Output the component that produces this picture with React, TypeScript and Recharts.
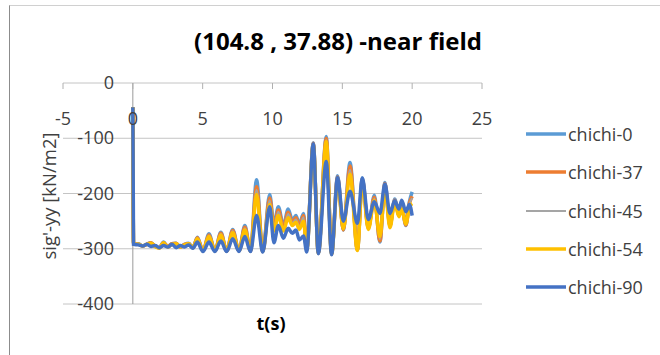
import React from "react";
import { LineChart, Line, XAxis, YAxis, CartesianGrid, ReferenceLine, Legend } from "recharts";

// time (s)
const TIMES = [
  0, 0.05, 0.4, 0.7, 1.0, 1.3, 1.6, 1.9, 2.2, 2.5, 2.8, 3.1, 3.4, 3.7, 4.0, 4.3,
  4.62, 5.02, 5.45, 5.88, 6.3, 6.72, 7.15, 7.6, 8.02, 8.42, 8.86, 9.3, 9.8, 10.1,
  10.42, 10.78, 11.12, 11.42, 11.68, 11.92, 12.22, 12.45, 12.92, 13.28, 13.85, 14.23,
  14.66, 15.07, 15.55, 16.08, 16.43, 16.86, 17.29, 17.69, 18.05, 18.41, 18.75, 19.05,
  19.25, 19.55, 19.8, 20.0,
];

const CHICHI_0 = [
  -44, -292, -291, -295, -292, -289, -296, -298, -288, -296, -291, -290, -297, -292, -290, -298,
  -279, -304, -273, -304, -270, -304, -265, -304, -258, -304, -175, -305, -202, -256,
  -224, -258, -228, -248, -240, -256, -236, -300, -108, -308, -97, -308,
  -168, -266, -144, -302, -172, -262, -203, -288, -180, -258, -210, -238,
  -222, -258, -215, -197,
];

const CHICHI_37 = [
  -44, -292, -292, -295, -292, -289, -296, -298, -289, -296, -291, -290, -297, -292, -291, -298,
  -280, -304, -275, -304, -272, -304, -267, -304, -261, -304, -188, -305, -208, -262,
  -230, -262, -234, -252, -244, -259, -240, -302, -109, -308, -100, -309,
  -170, -266, -150, -302, -174, -263, -207, -286, -182, -259, -212, -239,
  -224, -257, -218, -205,
];

const CHICHI_45 = [
  -44, -292, -292, -295, -292, -290, -296, -298, -289, -296, -291, -291, -297, -293, -291, -298,
  -281, -304, -276, -304, -273, -304, -268, -304, -263, -304, -193, -305, -212, -264,
  -233, -264, -237, -254, -247, -261, -243, -302, -110, -308, -103, -309,
  -172, -265, -157, -302, -175, -263, -209, -283, -184, -260, -213, -240,
  -225, -256, -220, -208,
];

const CHICHI_54 = [
  -44, -292, -292, -295, -292, -290, -296, -299, -289, -297, -292, -291, -297, -293, -291, -298,
  -282, -304, -278, -304, -275, -304, -271, -304, -266, -304, -202, -305, -220, -268,
  -240, -268, -244, -258, -252, -265, -250, -303, -112, -308, -106, -310,
  -178, -264, -165, -303, -180, -265, -213, -278, -190, -262, -216, -242,
  -228, -255, -225, -218,
];

const CHICHI_90 = [
  -44, -292, -293, -295, -292, -296, -294, -298, -294, -297, -292, -298, -294, -297, -293, -299,
  -288, -305, -288, -305, -286, -305, -282, -305, -278, -305, -240, -306, -224, -289,
  -258, -281, -263, -272, -266, -284, -277, -306, -110, -309, -142, -311,
  -171, -250, -196, -254, -172, -247, -215, -236, -183, -236, -213, -228,
  -212, -233, -220, -240,
];

const X_TICKS = [-5, 0, 5, 10, 15, 20, 25];
const Y_TICKS = [-400, -300, -200, -100, 0];

const TITLE = "(104.8 , 37.88) -near field";
const X_TITLE = "t(s)";
const Y_TITLE = "sig'-yy [kN/m2]";

const SERIES = [
  { key: "c0", name: "chichi-0", values: CHICHI_0, color: "#5B9BD5", width: 3.5 },
  { key: "c37", name: "chichi-37", values: CHICHI_37, color: "#ED7D31", width: 3.5 },
  { key: "c45", name: "chichi-45", values: CHICHI_45, color: "#A5A5A5", width: 2 },
  { key: "c54", name: "chichi-54", values: CHICHI_54, color: "#FFC000", width: 3.5 },
  { key: "c90", name: "chichi-90", values: CHICHI_90, color: "#4472C4", width: 3.5 },
];

const data = TIMES.map((t, i) => {
  const row: Record<string, number> = { t };
  SERIES.forEach((s) => {
    row[s.key] = s.values[i];
  });
  return row;
});

const FONT = "'Open Sans', sans-serif";
const TXT = "#404040";

const YTick = (props: any) => {
  const { x, y, payload } = props;
  return (
    <text x={x + 51} y={y} dy={6} textAnchor="end" fontFamily={FONT} fontSize={18} fill={TXT}>
      {payload.value}
    </text>
  );
};

const renderLegend = () => (
  <div style={{ fontFamily: FONT, fontSize: 18, color: TXT }}>
    {SERIES.map((s) => (
      <div key={s.key} style={{ height: 38.3, display: "flex", alignItems: "center" }}>
        <svg width={42} height={10} style={{ display: "block" }}>
          <line x1={0} x2={40} y1={5} y2={5} stroke={s.color} strokeWidth={s.width} />
        </svg>
        <span style={{ whiteSpace: "nowrap" }}>{s.name}</span>
      </div>
    ))}
  </div>
);

export default function App() {
  return (
    <div
      style={{
        position: "absolute",
        left: 0,
        top: 0,
        width: 660,
        height: 355,
        background: "#fff",
        overflow: "hidden",
      }}
    >
      <div
        style={{
          position: "absolute",
          left: 9,
          top: 5,
          width: 700,
          height: 400,
          borderLeft: "1px solid #8c8c8c",
          borderTop: "1px solid #d0d0d0",
        }}
      />
      <div style={{ position: "absolute", left: 0, top: 0 }}>
        <LineChart
          width={660}
          height={355}
          data={data}
          margin={{ top: 83, right: 178, bottom: 51, left: 62 }}
        >
          <CartesianGrid horizontal vertical={false} stroke="#c4c4c4" strokeWidth={1} />
          <XAxis
            dataKey="t"
            type="number"
            domain={[-5, 25]}
            ticks={X_TICKS}
            orientation="top"
            mirror
            height={1}
            tickSize={6}
            tickMargin={23}
            axisLine={false}
            tickLine={{ stroke: "#b0b0b0" }}
            tick={{ fontFamily: FONT, fontSize: 18, fill: TXT }}
            interval={0}
            allowDataOverflow
          />
          <YAxis
            type="number"
            domain={[-400, 0]}
            ticks={Y_TICKS}
            width={1}
            axisLine={false}
            tickLine={false}
            tickSize={0}
            tickMargin={0}
            tick={<YTick />}
            interval={0}
            allowDataOverflow
          />
          <ReferenceLine x={0} stroke="#9a9a9a" strokeWidth={1} />
          {SERIES.map((s) => (
            <Line
              key={s.key}
              dataKey={s.key}
              name={s.name}
              type="monotone"
              stroke={s.color}
              strokeWidth={s.width}
              dot={false}
              activeDot={false}
              isAnimationActive={false}
            />
          ))}
          <Legend
            layout="vertical"
            align="center"
            verticalAlign="middle"
            wrapperStyle={{ left: 526, top: 115, width: 134, height: 195 }}
            content={renderLegend}
          />
          <text x={338} y={50} textAnchor="middle" fontFamily={FONT} fontWeight="bold" fontSize={24} fill="#000">
            {TITLE}
          </text>
          <text x={271} y={330} textAnchor="middle" fontFamily={FONT} fontWeight="bold" fontSize={18} fill="#000">
            {X_TITLE}
          </text>
          <text
            x={48}
            y={196}
            textAnchor="middle"
            dominantBaseline="central"
            transform="rotate(-90 48 196)"
            fontFamily={FONT}
            fontSize={18.5}
            fill={TXT}
          >
            {Y_TITLE}
          </text>
        </LineChart>
      </div>
    </div>
  );
}
